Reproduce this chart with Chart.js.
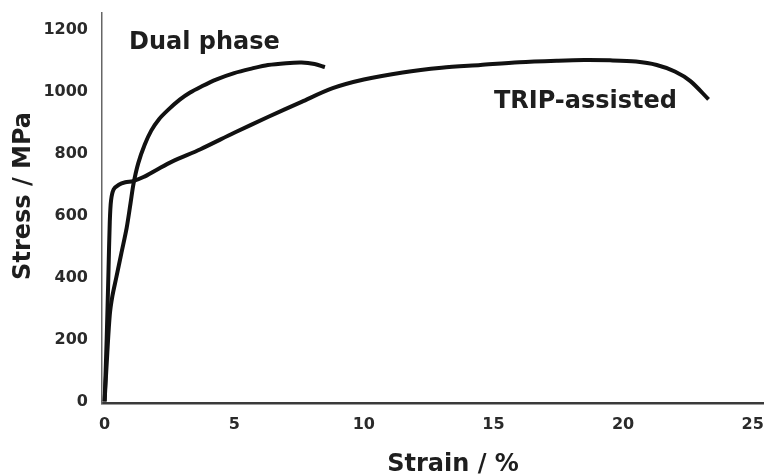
<!DOCTYPE html>
<html lang="en">
<head>
  <meta charset="UTF-8" />
  <title>Stress–strain: Dual phase vs TRIP-assisted</title>
  <script src="https://cdn.jsdelivr.net/npm/chart.js"></script>
  <style>
    html, body {
      margin: 0;
      padding: 0;
      background: #fff;
    }
    #wrap {
      width: 766px;
      height: 475px;
    }
  </style>
</head>
<body>
  <div id="wrap"><canvas id="ssChart" width="766" height="475"></canvas></div>

  <script>
    // strain (%) and stress (MPa)
    const dualStrain = [0, 0.1, 0.2, 0.3, 0.45, 0.65, 0.85, 1.0, 1.12, 1.3, 1.55, 1.8, 2.1, 2.45, 2.9, 3.3, 3.7, 4.3, 5.0, 5.7, 6.3, 7.0, 7.6, 8.1, 8.5];
    const dualStress = [0, 150, 280, 340, 400, 480, 560, 640, 705, 770, 830, 875, 912, 942, 975, 998, 1016, 1040, 1061, 1076, 1087, 1093, 1095, 1090, 1080];

    const tripStrain = [0, 0.08, 0.15, 0.2, 0.25, 0.35, 0.55, 0.8, 1.1, 1.5, 2.0, 2.6, 3.7, 5.0, 6.3, 7.6, 8.8, 10.0, 11.5, 13.0, 14.5, 16.0, 17.5, 18.5, 19.5, 20.5, 21.3, 22.0, 22.6, 23.3];
    const tripStress = [0, 200, 420, 580, 650, 685, 700, 708, 712, 725, 748, 775, 815, 868, 919, 968, 1012, 1040, 1063, 1078, 1087, 1096, 1101, 1103, 1102, 1098, 1087, 1066, 1035, 976];

    const xTicks = [0, 5, 10, 15, 20, 25];
    const yTicks = [0, 200, 400, 600, 800, 1000, 1200];

    // curve names, placed in data units
    const curveNames = ["Dual phase", "TRIP-assisted"];
    const nameStrain = [3.85, 18.55];
    const nameStress = [1158, 968];

    const xTitle = "Strain / %";
    const yTitle = "Stress / MPa";

    const toPoints = (xs, ys) => xs.map((x, i) => ({ x: x, y: ys[i] }));

    // curve names and axis titles
    const textPlugin = {
      id: "curveText",
      afterDraw(chart) {
        const ctx = chart.ctx;
        const xs = chart.scales.x, ys = chart.scales.y;
        const area = chart.chartArea;
        ctx.save();
        ctx.fillStyle = "#1e1e1e";
        ctx.textAlign = "center";
        ctx.textBaseline = "middle";
        ctx.font = "bold 24px 'DejaVu Sans'";
        curveNames.forEach((name, i) => {
          ctx.fillText(name, xs.getPixelForValue(nameStrain[i]), ys.getPixelForValue(nameStress[i]));
        });
        ctx.fillText(xTitle, area.left + (area.right - area.left) * 0.531, chart.height - 10);
        ctx.translate(24, area.top + (area.bottom - area.top) * 0.469);
        ctx.rotate(-Math.PI / 2);
        ctx.fillText(yTitle, 0, 0);
        ctx.restore();
      }
    };

    const tickFont = { family: "'DejaVu Sans'", size: 16, weight: "bold" };

    new Chart(document.getElementById("ssChart"), {
      type: "line",
      data: {
        datasets: [
          {
            label: "Dual phase",
            data: toPoints(dualStrain, dualStress),
            borderColor: "#111",
            borderWidth: 4,
            pointRadius: 0,
            fill: false,
            tension: 0.3
          },
          {
            label: "TRIP-assisted",
            data: toPoints(tripStrain, tripStress),
            borderColor: "#111",
            borderWidth: 4,
            pointRadius: 0,
            fill: false,
            tension: 0.3
          }
        ]
      },
      options: {
        responsive: false,
        animation: false,
        layout: { padding: { top: 13, right: 3 } },
        plugins: {
          legend: { display: false },
          tooltip: { enabled: false }
        },
        scales: {
          x: {
            type: "linear",
            min: -0.1,
            max: 25.4,
            afterBuildTicks: s => { s.ticks = xTicks.map(v => ({ value: v })); },
            afterFit: s => { s.height = 72; s.paddingLeft = 0; s.paddingRight = 0; },
            grid: { display: false, drawTicks: false },
            border: { display: true, color: "#3a3a3a", width: 2.5 },
            ticks: { color: "#2a2a2a", font: tickFont, padding: 12, maxRotation: 0, callback: v => String(v) }
          },
          y: {
            min: -5,
            max: 1255,
            afterBuildTicks: s => { s.ticks = yTicks.map(v => ({ value: v })); },
            afterFit: s => { s.width = 102; s.paddingTop = 0; s.paddingBottom = 0; },
            grid: { display: false, drawTicks: false },
            border: { display: true, color: "#666", width: 1.5 },
            ticks: { color: "#2a2a2a", font: tickFont, padding: 14, callback: v => String(v) }
          }
        }
      },
      plugins: [textPlugin]
    });
  </script>
</body>
</html>
